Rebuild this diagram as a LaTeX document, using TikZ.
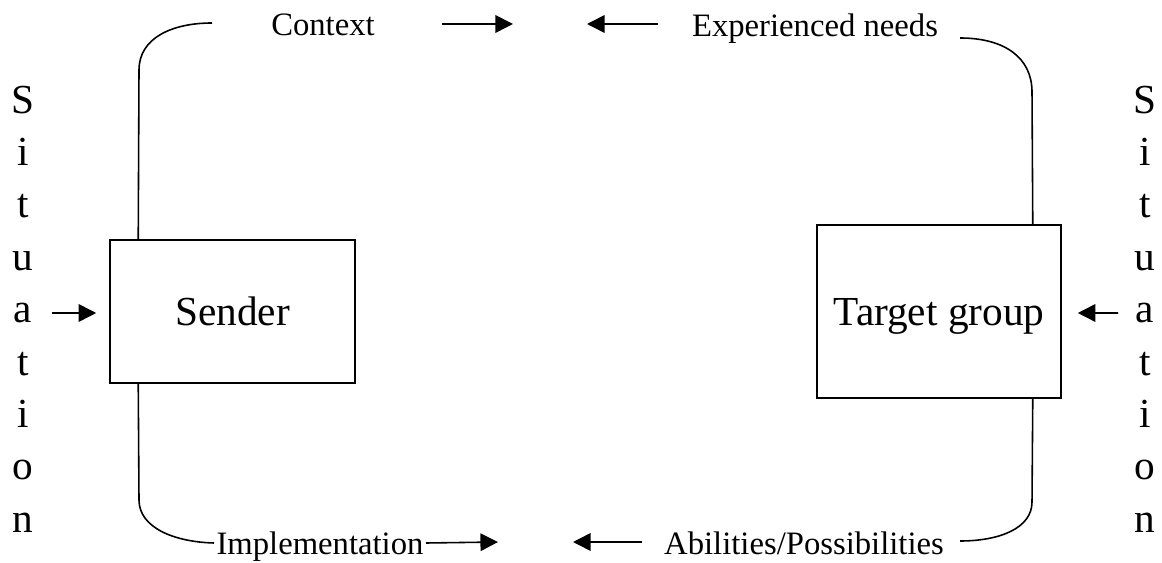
\documentclass[tikz,border=0pt]{standalone}
\usepackage{fontspec}
\setmainfont{Liberation Serif}
\usetikzlibrary{arrows.meta,calc}
\begin{document}
\begin{tikzpicture}[x=0.02cm,y=-0.02cm,line width=0.9pt,
		box/.style={draw,inner sep=0pt,text depth=0pt,font={\fontsize{23.5}{28}\selectfont}},
		lbl/.style={inner sep=1pt,text depth=0pt,font={\fontsize{18.6}{22}\selectfont}},
		sit/.style={align=center,inner sep=0pt,font={\fontsize{23.5}{29.8}\selectfont}},
		arr/.style={-{Triangle[length=10pt,width=10pt]}}]

	\useasboundingbox (0,0) rectangle (1162,563);

	\node[box,minimum width=4.9cm,minimum height=2.86cm] (sender) at (232.5,311.5) {Sender};
	\node[box,minimum width=4.88cm,minimum height=3.46cm] (target) at (939,311.5) {Target group};

	\node[sit] (sitL) at (23,309) {S\\i\\t\\u\\a\\t\\i\\o\\n};
	\node[sit] (sitR) at (1145,309) {S\\i\\t\\u\\a\\t\\i\\o\\n};

	\node[lbl] (context) at (323,25) {Context};
	\node[lbl] (needs) at (815,25) {Experienced needs};
	\node[lbl] (impl) at (320,543) {Implementation};
	\node[lbl] (abil) at (804,543) {Abilities/Possibilities};

	% free ends of the arrows and the frame
	\coordinate (ctxA) at (442,24);
	\coordinate (ctxB) at (513,24);
	\coordinate (needsA) at (658,24);
	\coordinate (needsB) at (587,24);
	\coordinate (implB) at (498,542);
	\coordinate (abilA) at (642,542);
	\coordinate (abilB) at (573,542);
	\coordinate (inL) at (52,313);
	\coordinate (inR) at (1118,313);
	\coordinate (cTL) at (212,23);
	\coordinate (cTR) at (960,38);
	\coordinate (cBR) at (960,541);

	% frame
	\draw ($(sender.north west)+(29,0)$) -- (139,70) .. controls (139,38) and (172,23) .. (cTL);
	\draw ($(target.north east)+(-29,0)$) -- (1032,92) .. controls (1032,58) and (1005,38) .. (cTR);
	\draw ($(sender.south west)+(29,0)$) -- (139,500) .. controls (139,528) and (175,542) .. (impl.west);
	\draw ($(target.south east)+(-29,0)$) -- (1032,502) .. controls (1032,528) and (1000,541) .. (cBR);

	% arrows
	\draw[arr] (ctxA) -- (ctxB);
	\draw[arr] (needsA) -- (needsB);
	\draw[arr] (impl.east) -- (implB);
	\draw[arr] (abilA) -- (abilB);
	\draw[arr] (inL) -- ($(sender.west)+(-13,1.5)$);
	\draw[arr] (inR) -- ($(target.east)+(16,1.5)$);

\end{tikzpicture}
\end{document}
